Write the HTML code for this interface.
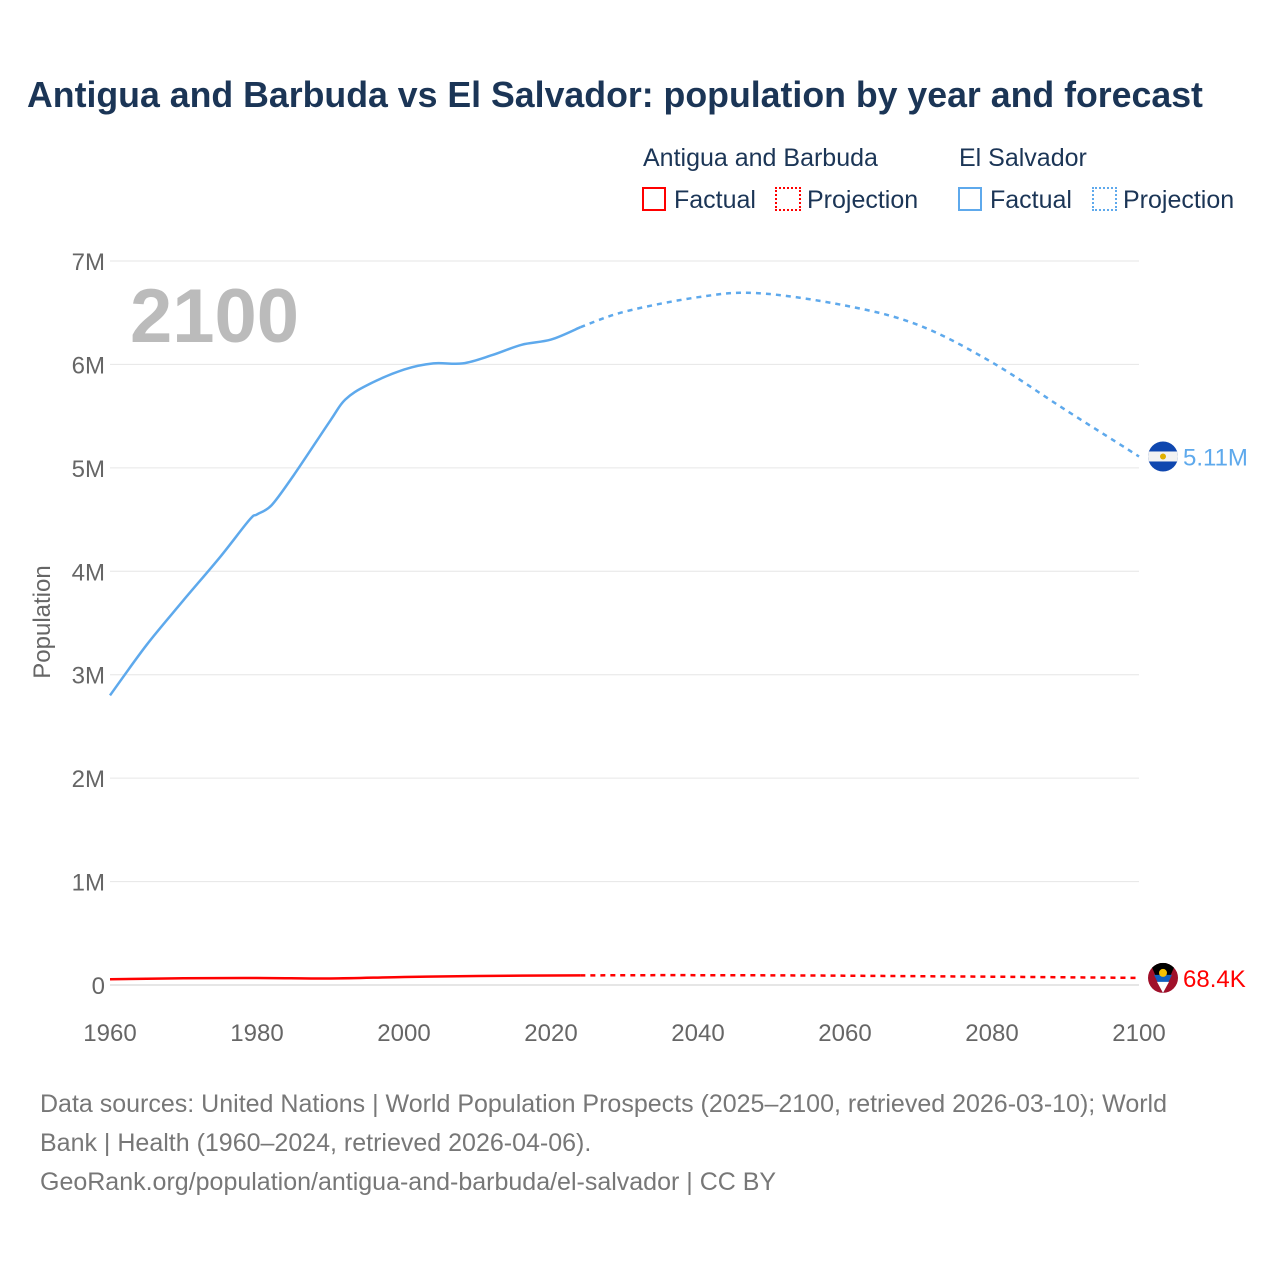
<!DOCTYPE html>
<html><head><meta charset="utf-8">
<style>
body{margin:0;background:#fff;font-family:"Liberation Sans",sans-serif;}
#wrap{position:relative;width:1280px;height:1280px;overflow:hidden;}
.t{position:absolute;white-space:nowrap;}
</style></head>
<body>
<div id="wrap">
<div class="t" style="left:27px;top:75px;font-size:35.7px;font-weight:bold;color:#1b3556;">Antigua and Barbuda vs El Salvador: population by year and forecast</div>
<div class="t" style="left:643px;top:144px;font-size:25px;color:#1b3556;">Antigua and Barbuda</div>
<div class="t" style="left:959px;top:144px;font-size:25px;color:#1b3556;">El Salvador</div>
<div class="t" style="left:642px;top:186px;font-size:25px;color:#1b3556;"><span style="display:inline-block;width:24px;height:24px;border:2px solid #f00;box-sizing:border-box;vertical-align:-3px;margin-right:8px"></span>Factual</div>
<div class="t" style="left:775px;top:186px;font-size:25px;color:#1b3556;"><span style="display:inline-block;width:26px;height:24px;border:2px dotted #f00;box-sizing:border-box;vertical-align:-3px;margin-right:6px"></span>Projection</div>
<div class="t" style="left:958px;top:186px;font-size:25px;color:#1b3556;"><span style="display:inline-block;width:24px;height:24px;border:2px solid #5ea9ec;box-sizing:border-box;vertical-align:-3px;margin-right:8px"></span>Factual</div>
<div class="t" style="left:1092px;top:186px;font-size:25px;color:#1b3556;"><span style="display:inline-block;width:25px;height:24px;border:2px dotted #5ea9ec;box-sizing:border-box;vertical-align:-3px;margin-right:6px"></span>Projection</div>
<svg id="chart" width="1280" height="1280" style="position:absolute;left:0;top:0"></svg>
<div class="t" style="left:40px;top:1085px;font-size:25px;line-height:39px;color:#777;white-space:normal;width:1180px;">Data sources: United Nations | World Population Prospects (2025–2100, retrieved 2026-03-10); World Bank | Health (1960–2024, retrieved 2026-04-06).<br>GeoRank.org/population/antigua-and-barbuda/el-salvador | CC BY</div>
</div>
<script>
const yTicks=[0,1,2,3,4,5,6,7];
const yTickLabels=["0","1M","2M","3M","4M","5M","6M","7M"];
const xTicks=[1960,1980,2000,2020,2040,2060,2080,2100];
const esFactYears=[1960,1965,1970,1975,1979,1980,1982,1985,1990,1992,1995,2000,2004,2008,2012,2016,2020,2024];
const esFactVals=[2.80,3.29,3.72,4.14,4.50,4.55,4.64,4.93,5.46,5.66,5.80,5.95,6.01,6.01,6.09,6.19,6.24,6.36];
const esProjYears=[2024,2030,2040,2048,2060,2070,2080,2090,2100];
const esProjVals=[6.36,6.51,6.65,6.69,6.57,6.38,6.02,5.56,5.11];
const agFactYears=[1960,1970,1980,1990,2000,2010,2024];
const agFactVals=[0.055,0.065,0.068,0.063,0.077,0.087,0.093];
const agProjYears=[2024,2040,2060,2080,2100];
const agProjVals=[0.093,0.095,0.090,0.080,0.0684];
const ns="http://www.w3.org/2000/svg";
const svg=document.getElementById('chart');
const X=y=>110+(y-1960)*(1139-110)/140;
const Y=v=>985-v*(985-261)/7;
function mk(t,a){const e=document.createElementNS(ns,t);for(const k in a)e.setAttribute(k,a[k]);svg.appendChild(e);return e;}
yTicks.forEach((v,i)=>{
 const l=mk('line',{x1:110,x2:1139,y1:Y(v),y2:Y(v),stroke:v==0?'#ccc':'#e6e6e6','stroke-width':1});
 
 
 const t=mk('text',{x:105,y:Y(v)+9,'text-anchor':'end','font-size':24,fill:'#666','font-family':'Liberation Sans'});
 t.textContent=yTickLabels[i];
 
 
});
xTicks.forEach(y=>{
 const t=mk('text',{x:X(y),y:1041,'text-anchor':'middle','font-size':24,fill:'#666','font-family':'Liberation Sans'});
 t.textContent=y;
 
 
});
const yt=mk('text',{x:50,y:622,'text-anchor':'middle','font-size':24,fill:'#666','font-family':'Liberation Sans',transform:'rotate(-90 50 622)'});
yt.textContent='Population';


const yr=mk('text',{x:130,y:342,'font-size':76,'font-weight':'bold',fill:'#bbb','font-family':'Liberation Sans'});
yr.textContent='2100';


function path(xs,vs){
 const p=xs.map((x,i)=>[X(x),Y(vs[i])]);
 let d='M'+p[0][0].toFixed(1)+' '+p[0][1].toFixed(1);
 for(let i=0;i<p.length-1;i++){
  const p0=p[Math.max(0,i-1)],p1=p[i],p2=p[i+1],p3=p[Math.min(p.length-1,i+2)];
  const c1=[p1[0]+(p2[0]-p0[0])/6,p1[1]+(p2[1]-p0[1])/6];
  const c2=[p2[0]-(p3[0]-p1[0])/6,p2[1]-(p3[1]-p1[1])/6];
  d+=` C${c1[0].toFixed(1)} ${c1[1].toFixed(1)} ${c2[0].toFixed(1)} ${c2[1].toFixed(1)} ${p2[0].toFixed(1)} ${p2[1].toFixed(1)}`;
 }
 return d;
}
let p=mk('path',{d:path(esFactYears,esFactVals),fill:'none',stroke:'#5ea9ec','stroke-width':2.5});


p=mk('path',{d:path(esProjYears,esProjVals),fill:'none',stroke:'#5ea9ec','stroke-width':2.5,'stroke-dasharray':'5 5'});


p=mk('path',{d:path(agFactYears,agFactVals),fill:'none',stroke:'#f00','stroke-width':2.5});


p=mk('path',{d:path(agProjYears,agProjVals),fill:'none',stroke:'#f00','stroke-width':2.5,'stroke-dasharray':'5 5'});


const esV=esProjVals[esProjVals.length-1], agV=agProjVals[agProjVals.length-1];
let cy=Y(esV);
let g=mk('g',{});


g.innerHTML=`<clipPath id="c1"><circle cx="1163" cy="${cy}" r="15"/></clipPath><g clip-path="url(#c1)"><rect x="1148" y="${cy-15}" width="30" height="30" fill="#0f47af"/><rect x="1148" y="${cy-5}" width="30" height="10" fill="#f2f2f2"/><circle cx="1163" cy="${cy}" r="3" fill="#e0b000"/></g>`;
let l=mk('text',{x:1183,y:cy+9,'font-size':24,fill:'#5ea9ec','font-family':'Liberation Sans'});
l.textContent=(esV).toFixed(2)+'M';


cy=Y(agV);
g=mk('g',{});


g.innerHTML=`<clipPath id="c2"><circle cx="1163" cy="${cy}" r="15"/></clipPath><g clip-path="url(#c2)"><rect x="1148" y="${cy-15}" width="30" height="30" fill="#a0102a"/><polygon points="1150,${cy-15} 1176,${cy-15} 1163,${cy+15}" fill="#000"/><polygon points="1154,${cy-3} 1172,${cy-3} 1163,${cy+15}" fill="#0f5fc0"/><polygon points="1157,${cy+4} 1169,${cy+4} 1163,${cy+15}" fill="#fff"/><circle cx="1163" cy="${cy-5}" r="4" fill="#f5c000"/></g>`;
l=mk('text',{x:1183,y:cy+9,'font-size':24,fill:'#f00','font-family':'Liberation Sans'});
l.textContent=(agV*1000).toFixed(1)+'K';


</script>
</body></html>
